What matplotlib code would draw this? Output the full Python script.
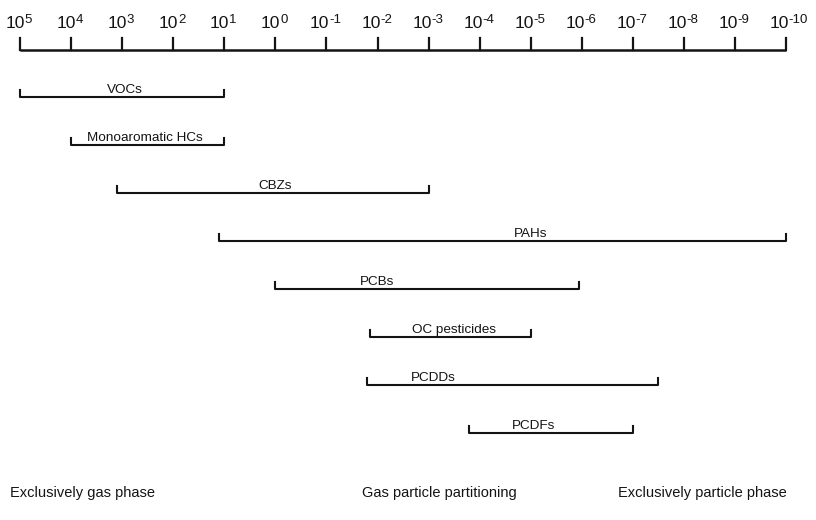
import matplotlib
matplotlib.use("Agg")
import matplotlib.pyplot as plt

# volatility scale, exponents of 10 (left = most volatile)
decades = list(range(5, -11, -1))

# compound classes and their ranges (exponents of 10)
classes = ["VOCs", "Monoaromatic HCs", "CBZs", "PAHs", "PCBs",
           "OC pesticides", "PCDDs", "PCDFs"]
range_start = [5.0, 4.0, 3.1, 1.1, 0.0, -1.85, -1.8, -3.8]
range_end = [1.0, 1.0, -3.0, -10.0, -5.95, -5.0, -7.5, -7.0]
label_at = [2.95, 2.55, 0.0, -5.0, -2.0, -3.5, -3.1, -5.05]

phases = ["Exclusively gas phase", "Gas particle partitioning",
          "Exclusively particle phase"]
phase_at = [5.2, -1.7, -6.7]

plt.rcParams['font.family'] = ['Liberation Sans', 'DejaVu Sans']

fig = plt.figure(figsize=(8.16, 5.2), dpi=100)
ax = fig.add_axes([0, 0, 1, 1])
ax.set_xlim(5.392, -10.586)
ax.set_ylim(8.8125, -2.0208)
ax.axis('off')

px = 1 / 48.0  # one pixel in row units
pt = 0.72      # one pixel in points
ink = '#141414'

# ruler
axis_y = -0.979
ax.plot([decades[0], decades[-1]], [axis_y, axis_y], color=ink, lw=1.8,
        solid_capstyle='butt')
for d in decades:
    ax.plot([d, d], [axis_y, axis_y - 12 * px], color=ink, lw=1.6)
    shift = 5 if d >= 0 else 3
    ax.annotate('10', (d, -1.5625), xytext=(shift * pt, -6 * pt),
                textcoords='offset points', ha='right', va='baseline',
                fontsize=12.5, color=ink)
    ax.annotate(str(d), (d, -1.5625), xytext=((shift - 0.3) * pt, -1.5 * pt),
                textcoords='offset points', ha='left', va='baseline',
                fontsize=9.5, color=ink)

# ranges
for i, name in enumerate(classes):
    y = i
    x0, x1 = range_start[i], range_end[i]
    ax.plot([x0, x0, x1, x1], [y - 7 * px, y, y, y - 7 * px], color=ink,
            lw=1.5)
    ax.text(label_at[i], y - 1 * px, name, ha='center', va='bottom',
            fontsize=9.7, color=ink)

for t, x in zip(phases, phase_at):
    ax.text(x, 8.25, t, ha='left', va='center', fontsize=10.5, color=ink)

fig.savefig('out.png', dpi=100)
